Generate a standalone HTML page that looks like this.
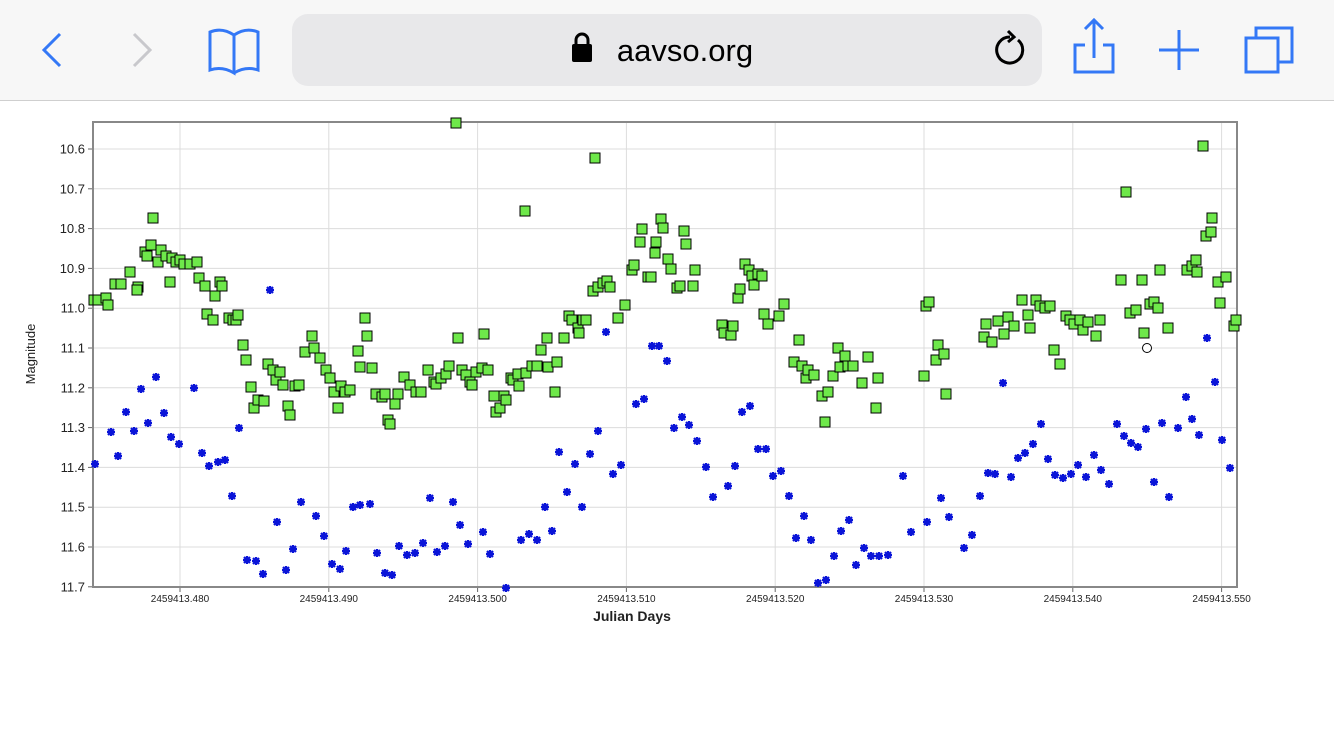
<!DOCTYPE html>
<html><head><meta charset="utf-8"><style>
html,body{margin:0;padding:0;background:#fff;width:1334px;height:750px;overflow:hidden;font-family:"Liberation Sans",sans-serif}
</style></head><body>
<svg id="s" width="1334" height="750" xmlns="http://www.w3.org/2000/svg" font-family="Liberation Sans, sans-serif">
<rect x="0" y="0" width="1334" height="100" fill="#f7f7f7"/>
<line x1="0" y1="100.5" x2="1334" y2="100.5" stroke="#cfcfcf"/>
<rect x="292" y="14" width="750" height="72" rx="16" fill="#e8e8ea"/>
<text x="685" y="61" font-size="31" text-anchor="middle" fill="#000">aavso.org</text>
<rect x="572" y="44" width="20" height="18" rx="2" fill="#000"/>
<path d="M576 45 v-5 a6 6 0 0 1 12 0 v5" fill="none" stroke="#000" stroke-width="3"/>
<path d="M1018 40 a13 13 0 1 1 -8 -3" fill="none" stroke="#000" stroke-width="3"/>
<path d="M1008 31 l6 6 l-6 5" fill="none" stroke="#000" stroke-width="3"/>
<g fill="none" stroke="#3478f6" stroke-width="3">
<path d="M60 34 l-16 16 l16 16"/>
<path d="M134 34 l16 16 l-16 16" stroke="#c8c8cc"/>
<path d="M210 32 q12 -5 24 3 v38 q-12 -7 -24 -3 z M234 35 q12 -8 24 -3 v38 q-12 -4 -24 3"/>
<path d="M1085 45 h-10 v27 h38 v-27 h-10 M1094 58 v-38 M1085 29 l9 -9 l9 9"/>
<path d="M1179 30 v40 M1159 50 h40"/>
<rect x="1246" y="38" width="32" height="34"/><path d="M1256 38 v-10 h36 v34 h-14"/>
</g>
<g id="plot"></g>
</svg>
<script>
const g=document.getElementById('plot');const NS='http://www.w3.org/2000/svg';
function el(t,a,txt){const e=document.createElementNS(NS,t);for(const k in a)e.setAttribute(k,a[k]);if(txt)e.textContent=txt;g.appendChild(e);return e;}
el('rect',{x:93,y:122,width:1144,height:465,fill:'#fff'});
const yl=['10.6','10.7','10.8','10.9','11.0','11.1','11.2','11.3','11.4','11.5','11.6','11.7'];
yl.forEach((l,i)=>{const y=149+i*39.8;el('line',{x1:93,x2:1237,y1:y,y2:y,stroke:'#dcdcdc'});el('line',{x1:88,x2:93,y1:y,y2:y,stroke:'#666'});el('text',{x:85,y:y+4.5,'font-size':13,'text-anchor':'end',fill:'#222'},l);});
const xl=['2459413.480','2459413.490','2459413.500','2459413.510','2459413.520','2459413.530','2459413.540','2459413.550'];
xl.forEach((l,i)=>{const x=180+i*148.8;el('line',{x1:x,x2:x,y1:122,y2:587,stroke:'#dcdcdc'});el('line',{x1:x,x2:x,y1:587,y2:592,stroke:'#666'});el('text',{x:x,y:602,'font-size':10,'text-anchor':'middle',fill:'#222'},l);});
el('rect',{x:93,y:122,width:1144,height:465,fill:'none',stroke:'#888','stroke-width':2});
el('text',{x:632,y:621,'font-size':14,'font-weight':'bold','text-anchor':'middle',fill:'#222'},'Julian Days');
el('text',{x:35,y:354,'font-size':13,'text-anchor':'middle',fill:'#222',transform:'rotate(-90 35 354)'},'Magnitude');
const G=[94,300,98,300,106,298,108,305,115,284,121,284,130,272,138,287,137,290,145,252,147,256,151,245,153,218,158,262,161,250,166,256,170,282,172,258,176,262,180,260,184,264,190,264,197,262,199,278,205,286,207,314,213,320,215,296,220,282,222,286,229,318,233,320,236,320,238,315,243,345,246,360,251,387,254,408,258,400,264,401,268,364,273,370,276,380,280,372,283,385,288,406,290,415,295,386,299,385,305,352,312,336,314,348,320,358,326,370,330,378,334,392,338,408,341,386,345,392,350,390,358,351,360,367,365,318,367,336,372,368,376,394,382,397,385,394,388,420,390,424,395,404,398,394,404,377,410,385,416,392,421,392,428,370,434,382,436,384,441,378,446,374,449,366,456,123,458,338,462,370,466,375,470,382,472,385,476,372,482,368,484,334,488,370,494,396,496,412,500,408,504,396,506,400,511,378,513,380,518,374,519,386,525,211,526,373,532,366,537,366,541,350,547,338,548,367,555,392,557,362,564,338,569,316,572,320,578,328,579,333,583,320,586,320,593,291,595,158,598,287,603,283,607,281,610,287,618,318,625,305,632,270,634,265,640,242,642,229,648,277,651,277,655,253,656,242,661,219,663,228,668,259,671,269,677,288,680,286,684,231,686,244,693,286,695,270,722,325,724,333,731,335,733,326,738,298,740,289,745,264,749,270,752,276,754,285,758,274,762,276,764,314,768,324,779,316,784,304,794,362,799,340,802,366,806,378,808,370,814,375,822,396,825,422,828,392,833,376,838,348,840,367,845,356,848,366,853,366,862,383,868,357,876,408,878,378,926,306,929,302,924,376,936,360,938,345,944,354,946,394,984,337,986,324,992,342,998,321,1004,334,1008,317,1014,326,1022,300,1028,315,1030,328,1036,300,1040,306,1045,308,1050,306,1054,350,1060,364,1066,316,1070,320,1074,324,1080,320,1083,330,1088,322,1096,336,1100,320,1121,280,1126,192,1130,313,1136,310,1142,280,1144,333,1150,304,1154,302,1158,308,1160,270,1168,328,1187,270,1192,266,1197,272,1196,260,1203,146,1206,236,1211,232,1212,218,1218,282,1220,303,1226,277,1234,326,1236,320];
const B=[95,464,111,432,118,456,126,412,134,431,141,389,148,423,156,377,164,413,171,437,179,444,194,388,202,453,209,466,218,462,225,460,232,496,239,428,247,560,256,561,263,574,270,290,277,522,286,570,293,549,301,502,316,516,324,536,332,564,340,569,346,551,353,507,360,505,370,504,377,553,385,573,392,575,399,546,407,555,415,553,423,543,430,498,437,552,445,546,453,502,460,525,468,544,483,532,490,554,506,588,521,540,529,534,537,540,545,507,552,531,559,452,567,492,575,464,582,507,590,454,598,431,606,332,613,474,621,465,636,404,644,399,652,346,659,346,667,361,674,428,682,417,689,425,697,441,706,467,713,497,728,486,735,466,742,412,750,406,758,449,766,449,773,476,781,471,789,496,796,538,804,516,811,540,818,583,826,580,834,556,841,531,849,520,856,565,864,548,871,556,879,556,888,555,903,476,911,532,927,522,941,498,949,517,964,548,972,535,980,496,988,473,995,474,1003,383,1011,477,1018,458,1025,453,1033,444,1041,424,1048,459,1055,475,1063,478,1071,474,1078,465,1086,477,1094,455,1101,470,1109,484,1117,424,1124,436,1131,443,1138,447,1146,429,1154,482,1162,423,1169,497,1178,428,1186,397,1192,419,1199,435,1207,338,1215,382,1222,440,1230,468];
for(let i=0;i<B.length;i+=2){const x=B[i],y=B[i+1];el('path',{d:`M${x-4} ${y}h8M${x} ${y-4}v8M${x-3} ${y-3}l6 6M${x-3} ${y+3}l6 -6`,stroke:'#0a14d8','stroke-width':2.2});}
for(let i=0;i<G.length;i+=2){el('rect',{x:G[i]-5,y:G[i+1]-5,width:10,height:10,fill:'#6ee84a',stroke:'#000','stroke-width':1});}
el('circle',{cx:1147,cy:348,r:4.5,fill:'#fff',stroke:'#000'});
</script>
</body></html>
